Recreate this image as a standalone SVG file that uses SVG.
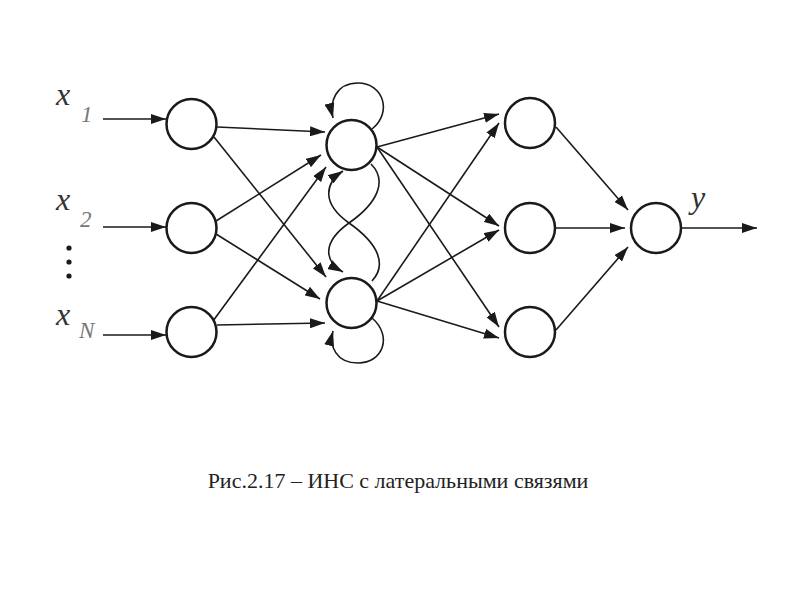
<svg xmlns="http://www.w3.org/2000/svg" width="800" height="600" viewBox="0 0 800 600">
<defs>
<marker id="ah" markerUnits="userSpaceOnUse" viewBox="0 0 15 10" refX="15" refY="5" markerWidth="15" markerHeight="10" orient="auto">
<path d="M0,0 L15,5 L0,10 Z" fill="#1a1a1a"/>
</marker>
<style>
.n{fill:#fff;stroke:#1a1a1a;stroke-width:2.5}
.c{fill:none;stroke:#1a1a1a;stroke-width:1.6;marker-end:url(#ah)}
.lx{font-family:"Liberation Serif","Times New Roman",serif;font-style:italic;font-size:32px;fill:#333}
.ls{font-family:"Liberation Serif","Times New Roman",serif;font-style:italic;font-size:23px;fill:#777}
.cap{font-family:"Liberation Serif","Times New Roman",serif;font-size:22px;fill:#222}
</style>
</defs>
<rect width="800" height="600" fill="#fff"/>
<g id="connectors">
<path class="c" d="M103,119 L166,119"/>
<path class="c" d="M103,227 L166,227"/>
<path class="c" d="M103,335 L166,335"/>
<path class="c" d="M217,127 L325,132"/>
<path class="c" d="M214,137 L326,277"/>
<path class="c" d="M216,221 L321,155"/>
<path class="c" d="M216,234 L320,299"/>
<path class="c" d="M213,321 L326,167"/>
<path class="c" d="M217,325 L325,323"/>
<path class="c" d="M372,129 C393,112 383,83 358,83 C336,83 329,102 333,118"/>
<path class="c" d="M372,318 C393,336 383,363 358,363 C336,363 329,346 333,331"/>
<path class="c" d="M371,164 C387,180 379,202 349,223 C321,243 325,262 343,272"/>
<path class="c" d="M372,281 C387,265 379,244 349,223 C321,203 325,183 343,171"/>
<path class="c" d="M377,147 L499,114"/>
<path class="c" d="M377,147 L499,226"/>
<path class="c" d="M377,147 L499,327"/>
<path class="c" d="M377,301 L499,123"/>
<path class="c" d="M377,301 L499,230"/>
<path class="c" d="M377,301 L499,338"/>
<path class="c" d="M556,127 L628,210"/>
<path class="c" d="M555,228 L625,228"/>
<path class="c" d="M556,330 L628,247"/>
<path class="c" d="M682,228 L757,228"/>
</g>
<g id="in1"><circle class="n" cx="191.5" cy="124" r="25"/></g>
<g id="in2"><circle class="n" cx="191.5" cy="228" r="25"/></g>
<g id="in3"><circle class="n" cx="191.5" cy="332" r="25"/></g>
<g id="h1"><circle class="n" cx="351.5" cy="145" r="25"/></g>
<g id="h2"><circle class="n" cx="351.5" cy="303" r="25"/></g>
<g id="j1"><circle class="n" cx="530" cy="123" r="25"/></g>
<g id="j2"><circle class="n" cx="530" cy="228" r="25"/></g>
<g id="j3"><circle class="n" cx="530" cy="332" r="25"/></g>
<g id="out"><circle class="n" cx="656" cy="228" r="25"/></g>
<g id="labels">
<text class="lx" x="56" y="105">x</text><text class="ls" x="81" y="122">1</text>
<text class="lx" x="56" y="210">x</text><text class="ls" x="80" y="227">2</text>
<text class="lx" x="56" y="325">x</text><text class="ls" x="79" y="338">N</text>
<text class="lx" x="691" y="208">y</text>
<circle cx="69" cy="248" r="2.6" fill="#1a1a1a"/>
<circle cx="69" cy="262" r="2.6" fill="#1a1a1a"/>
<circle cx="69" cy="276" r="2.6" fill="#1a1a1a"/>
</g>
<text class="cap" x="398" y="488" text-anchor="middle">Рис.2.17 – ИНС с латеральными связями</text>
</svg>
